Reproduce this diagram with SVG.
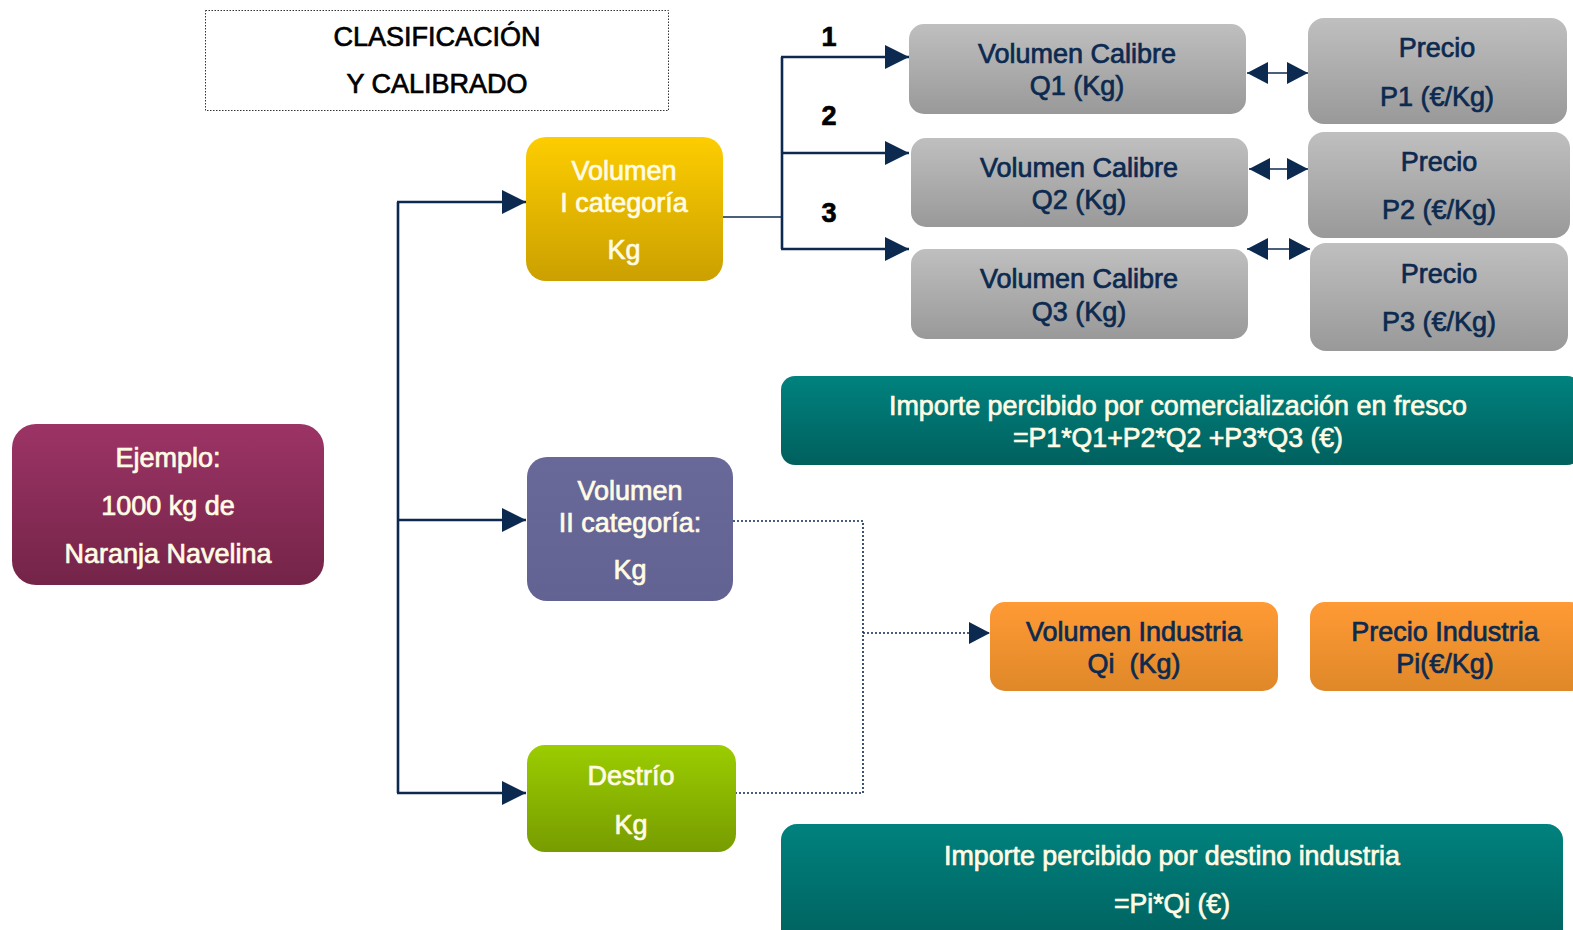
<svg xmlns="http://www.w3.org/2000/svg" width="1573" height="930" viewBox="0 0 1573 930">
<defs>
<linearGradient id="gYel" x1="0" y1="0" x2="0" y2="1"><stop offset="0" stop-color="#fdcd00"/><stop offset="1" stop-color="#cba000"/></linearGradient>
<linearGradient id="gPur" x1="0" y1="0" x2="0" y2="1"><stop offset="0" stop-color="#686899"/><stop offset="1" stop-color="#626293"/></linearGradient>
<linearGradient id="gGrn" x1="0" y1="0" x2="0" y2="1"><stop offset="0" stop-color="#9bcd00"/><stop offset="1" stop-color="#779c00"/></linearGradient>
<linearGradient id="gMag" x1="0" y1="0" x2="0" y2="1"><stop offset="0" stop-color="#9c3466"/><stop offset="1" stop-color="#742448"/></linearGradient>
<linearGradient id="gGry" x1="0" y1="0" x2="0" y2="1"><stop offset="0" stop-color="#bfbfbf"/><stop offset="1" stop-color="#999999"/></linearGradient>
<linearGradient id="gOra" x1="0" y1="0" x2="0" y2="1"><stop offset="0" stop-color="#ff9a35"/><stop offset="1" stop-color="#df8829"/></linearGradient>
<linearGradient id="gTeal" x1="0" y1="0" x2="0" y2="1"><stop offset="0" stop-color="#00827e"/><stop offset="1" stop-color="#00605e"/></linearGradient>
<marker id="ah" markerWidth="24" markerHeight="24" refX="24" refY="12" orient="auto" markerUnits="userSpaceOnUse"><path d="M0,0 L24,12 L0,24 Z" fill="#0c2a50"/></marker>
<marker id="ahs" markerWidth="21" markerHeight="22" refX="21" refY="11" orient="auto" markerUnits="userSpaceOnUse"><path d="M0,0 L21,11 L0,22 Z" fill="#0c2a50"/></marker>
<marker id="ahsStart" markerWidth="21" markerHeight="22" refX="0" refY="11" orient="auto" markerUnits="userSpaceOnUse"><path d="M21,0 L0,11 L21,22 Z" fill="#0c2a50"/></marker>
</defs>
<style>
text{font-family:"Liberation Sans",Arial,sans-serif;font-size:27px;text-anchor:middle}
.w{fill:#fffbe4;stroke:#fffbe4;stroke-width:0.7}
.n{fill:#0c2a50;stroke:#0c2a50;stroke-width:0.7}
.k{fill:#000;stroke:#000;stroke-width:0.7}
.solid{fill:none;stroke:#0c2a50;stroke-width:2.6}
.thin{fill:none;stroke:#0c2a50;stroke-width:1.6}
.dot{fill:none;stroke:#0c2a50;stroke-width:1.6;stroke-dasharray:2 2}
</style>

<g id="titulo">
<rect x="205.5" y="10.5" width="463" height="100" fill="#fff" stroke="#333" stroke-width="1" stroke-dasharray="1.5 1.5"/>
<text class="k" x="437" y="46" font-size="26">CLASIFICACIÓN</text>
<text class="k" x="437" y="93" font-size="26">Y CALIBRADO</text>
</g>

<g id="connectors">
<path class="solid" d="M398,202 V793"/>
<path class="solid" d="M397,202 H526" marker-end="url(#ah)"/>
<path class="solid" d="M397,520 H526" marker-end="url(#ah)"/>
<path class="solid" d="M397,793 H526" marker-end="url(#ah)"/>
<path class="thin" d="M716,217 H782"/>
<path class="solid" d="M782,57 V249"/>
<path class="solid" d="M781,57 H909" marker-end="url(#ah)"/>
<path class="solid" d="M781,153 H909" marker-end="url(#ah)"/>
<path class="solid" d="M781,249 H909" marker-end="url(#ah)"/>
<path class="thin" d="M1247,73 H1308" marker-start="url(#ahsStart)" marker-end="url(#ahs)"/>
<path class="thin" d="M1249,169 H1308" marker-start="url(#ahsStart)" marker-end="url(#ahs)"/>
<path class="thin" d="M1247,249 H1310" marker-start="url(#ahsStart)" marker-end="url(#ahs)"/>
<path class="dot" d="M733,521 H863 V793 H735"/>
<path class="dot" d="M863,633 H990" marker-end="url(#ahs)"/>
<text class="k" x="829" y="46" font-size="28" font-weight="bold" stroke-width="0">1</text>
<text class="k" x="829" y="125" font-size="28" font-weight="bold" stroke-width="0">2</text>
<text class="k" x="829" y="222" font-size="28" font-weight="bold" stroke-width="0">3</text>
</g>

<g id="ejemplo">
<rect x="12" y="424" width="312" height="161" rx="24" fill="url(#gMag)"/>
<text class="w" x="168" y="467">Ejemplo:</text>
<text class="w" x="168" y="515">1000 kg de</text>
<text class="w" x="168" y="563">Naranja Navelina</text>
</g>

<g id="vol1">
<rect x="526" y="137" width="197" height="144" rx="20" fill="url(#gYel)"/>
<text class="w" x="624" y="180">Volumen</text>
<text class="w" x="624" y="212">I categoría</text>
<text class="w" x="624" y="259">Kg</text>
</g>

<g id="vol2">
<rect x="527" y="457" width="206" height="144" rx="20" fill="url(#gPur)"/>
<text class="w" x="630" y="500">Volumen</text>
<text class="w" x="630" y="532">II categoría:</text>
<text class="w" x="630" y="579">Kg</text>
</g>

<g id="destrio">
<rect x="527" y="745" width="209" height="107" rx="18" fill="url(#gGrn)"/>
<text class="w" x="631" y="785">Destrío</text>
<text class="w" x="631" y="834">Kg</text>
</g>

<g id="calibre1">
<rect x="909" y="24" width="337" height="90" rx="15" fill="url(#gGry)"/>
<text class="n" x="1077" y="63">Volumen Calibre</text>
<text class="n" x="1077" y="95">Q1 (Kg)</text>
</g>
<g id="calibre2">
<rect x="911" y="138" width="337" height="89" rx="15" fill="url(#gGry)"/>
<text class="n" x="1079" y="177">Volumen Calibre</text>
<text class="n" x="1079" y="209">Q2 (Kg)</text>
</g>
<g id="calibre3">
<rect x="911" y="249" width="337" height="90" rx="15" fill="url(#gGry)"/>
<text class="n" x="1079" y="288">Volumen Calibre</text>
<text class="n" x="1079" y="321">Q3 (Kg)</text>
</g>

<g id="precio1">
<rect x="1308" y="18" width="259" height="106" rx="16" fill="url(#gGry)"/>
<text class="n" x="1437" y="57">Precio</text>
<text class="n" x="1437" y="106">P1 (€/Kg)</text>
</g>
<g id="precio2">
<rect x="1308" y="132" width="262" height="106" rx="16" fill="url(#gGry)"/>
<text class="n" x="1439" y="171">Precio</text>
<text class="n" x="1439" y="219">P2 (€/Kg)</text>
</g>
<g id="precio3">
<rect x="1310" y="243" width="258" height="108" rx="16" fill="url(#gGry)"/>
<text class="n" x="1439" y="283">Precio</text>
<text class="n" x="1439" y="331">P3 (€/Kg)</text>
</g>

<g id="importeFresco">
<rect x="781" y="376" width="800" height="89" rx="14" fill="url(#gTeal)"/>
<text class="w" x="1178" y="415" textLength="578" lengthAdjust="spacingAndGlyphs">Importe percibido por comercialización en fresco</text>
<text class="w" x="1178" y="447" textLength="330" lengthAdjust="spacingAndGlyphs">=P1*Q1+P2*Q2 +P3*Q3 (€)</text>
</g>

<g id="volIndustria">
<rect x="990" y="602" width="288" height="89" rx="15" fill="url(#gOra)"/>
<text class="n" x="1134" y="641">Volumen Industria</text>
<text class="n" x="1134" y="673" xml:space="preserve">Qi  (Kg)</text>
</g>
<g id="precioIndustria">
<rect x="1310" y="602" width="275" height="89" rx="15" fill="url(#gOra)"/>
<text class="n" x="1445" y="641">Precio Industria</text>
<text class="n" x="1445" y="673">Pi(€/Kg)</text>
</g>

<g id="importeIndustria">
<rect x="781" y="824" width="782" height="125" rx="16" fill="url(#gTeal)"/>
<text class="w" x="1172" y="865" textLength="456" lengthAdjust="spacingAndGlyphs">Importe percibido por destino industria</text>
<text class="w" x="1172" y="913" textLength="116" lengthAdjust="spacingAndGlyphs">=Pi*Qi (€)</text>
</g>
</svg>
